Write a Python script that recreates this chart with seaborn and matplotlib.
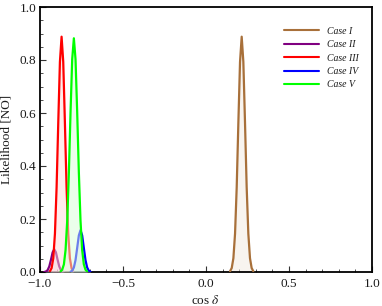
import numpy as np
import pandas as pd
import matplotlib
matplotlib.use("Agg")
import matplotlib.pyplot as plt
import matplotlib.colors as mcolors
from matplotlib.ticker import MultipleLocator
import seaborn as sns

# ---- data ----
case_labels = ["Case I", "Case II", "Case III", "Case IV", "Case V"]
case_colors = ["#A8703A", "#800080", "#FF0000", "#0000FF", "#00FF00"]

case1_x = [0.145, 0.155, 0.165, 0.175, 0.185, 0.195, 0.205, 0.215, 0.225, 0.235, 0.245, 0.255, 0.265, 0.275, 0.285]
case1_y = [0.003, 0.015, 0.052, 0.145, 0.320, 0.564, 0.793, 0.888, 0.793, 0.564, 0.320, 0.145, 0.052, 0.015, 0.003]

case2_x = [-0.974, -0.964, -0.954, -0.944, -0.934, -0.924, -0.914, -0.904, -0.894, -0.884, -0.874, -0.864, -0.854]
case2_y = [0.000, 0.002, 0.007, 0.021, 0.046, 0.074, 0.086, 0.074, 0.046, 0.021, 0.007, 0.002, 0.000]

case3_x = [-0.940, -0.930, -0.920, -0.910, -0.900, -0.890, -0.880, -0.870, -0.860, -0.850, -0.840, -0.830, -0.820, -0.810, -0.800]
case3_y = [0.003, 0.015, 0.052, 0.145, 0.320, 0.564, 0.793, 0.888, 0.793, 0.564, 0.320, 0.145, 0.052, 0.015, 0.003]

case4_x = [-0.816, -0.806, -0.796, -0.786, -0.776, -0.766, -0.756, -0.746, -0.736, -0.726, -0.716, -0.706, -0.696]
case4_y = [0.001, 0.005, 0.017, 0.045, 0.091, 0.138, 0.158, 0.138, 0.091, 0.045, 0.017, 0.005, 0.001]

case5_x = [-0.876, -0.866, -0.856, -0.846, -0.836, -0.826, -0.816, -0.806, -0.796, -0.786, -0.776, -0.766, -0.756, -0.746, -0.736, -0.726, -0.716]
case5_y = [0.002, 0.009, 0.029, 0.083, 0.194, 0.377, 0.604, 0.803, 0.882, 0.803, 0.604, 0.377, 0.194, 0.083, 0.029, 0.009, 0.002]

xticks = [-1.0, -0.5, 0.0, 0.5, 1.0]
yticks = [0.0, 0.2, 0.4, 0.6, 0.8, 1.0]

cases_x = [case1_x, case2_x, case3_x, case4_x, case5_x]
cases_y = [case1_y, case2_y, case3_y, case4_y, case5_y]

# ---- styling ----
sns.set_theme(style="ticks")
plt.rcParams["font.family"] = ["Liberation Serif", "DejaVu Serif"]
plt.rcParams["mathtext.fontset"] = "stix"
plt.rcParams["xtick.direction"] = "in"
plt.rcParams["ytick.direction"] = "in"

TXT = "#1a1a1a"

fig = plt.figure(figsize=(3.82, 3.06), dpi=100)
ax = fig.add_axes([40 / 382, 34 / 306, 332 / 382, 265 / 306])

for i, (lab, col, xs, ys) in enumerate(zip(case_labels, case_colors, cases_x, cases_y)):
    df = pd.DataFrame({"x": xs, "y": ys})
    rgb = np.array(mcolors.to_rgb(col))
    tint = 0.15 * rgb + 0.85 * np.ones(3)
    ax.fill_between(df["x"], 0, df["y"], color=tint, alpha=0.5, linewidth=0, zorder=2 + 2 * i)
    sns.lineplot(data=df, x="x", y="y", ax=ax, color=col, linewidth=1.6, label=lab,
                 zorder=3 + 2 * i, estimator=None, sort=False)

ax.set_xlim(-1.0, 1.0)
ax.set_ylim(0.0, 1.0)
ax.set_xticks(xticks)
ax.set_yticks(yticks)
ax.set_xticklabels([f"{t:.1f}".replace("-", "\u2212") for t in xticks])
ax.set_yticklabels([f"{t:.1f}" for t in yticks])
ax.xaxis.set_minor_locator(MultipleLocator(0.1))
ax.yaxis.set_minor_locator(MultipleLocator(0.05))
ax.tick_params(axis="both", which="major", length=4, width=0.8, labelsize=9.5,
               colors="#333333", labelcolor=TXT)
ax.tick_params(axis="x", which="major", pad=4.5)
ax.tick_params(axis="y", which="major", pad=2.5)
ax.tick_params(axis="both", which="minor", length=2, width=0.6, colors="#333333")
ax.tick_params(top=False, right=False, which="both")

for sp in ax.spines.values():
    sp.set_visible(True)
    sp.set_linewidth(1.3)
    sp.set_color("black")

ax.set_xlabel(r"cos $\delta$", fontsize=9.5, color=TXT, labelpad=3)
ax.set_ylabel("Likelihood [NO]", fontsize=9.5, color=TXT, labelpad=5)

leg = ax.legend(loc="upper left", bbox_to_anchor=(0.735, 0.925), frameon=False,
                prop={"family": "Liberation Serif", "style": "italic", "size": 7},
                handlelength=3.6, handletextpad=0.8, labelspacing=0.45,
                borderpad=0, borderaxespad=0)
for t in leg.get_texts():
    t.set_color(TXT)
for h in leg.get_lines():
    h.set_linewidth(1.5)

fig.savefig("out.png", dpi=100)
